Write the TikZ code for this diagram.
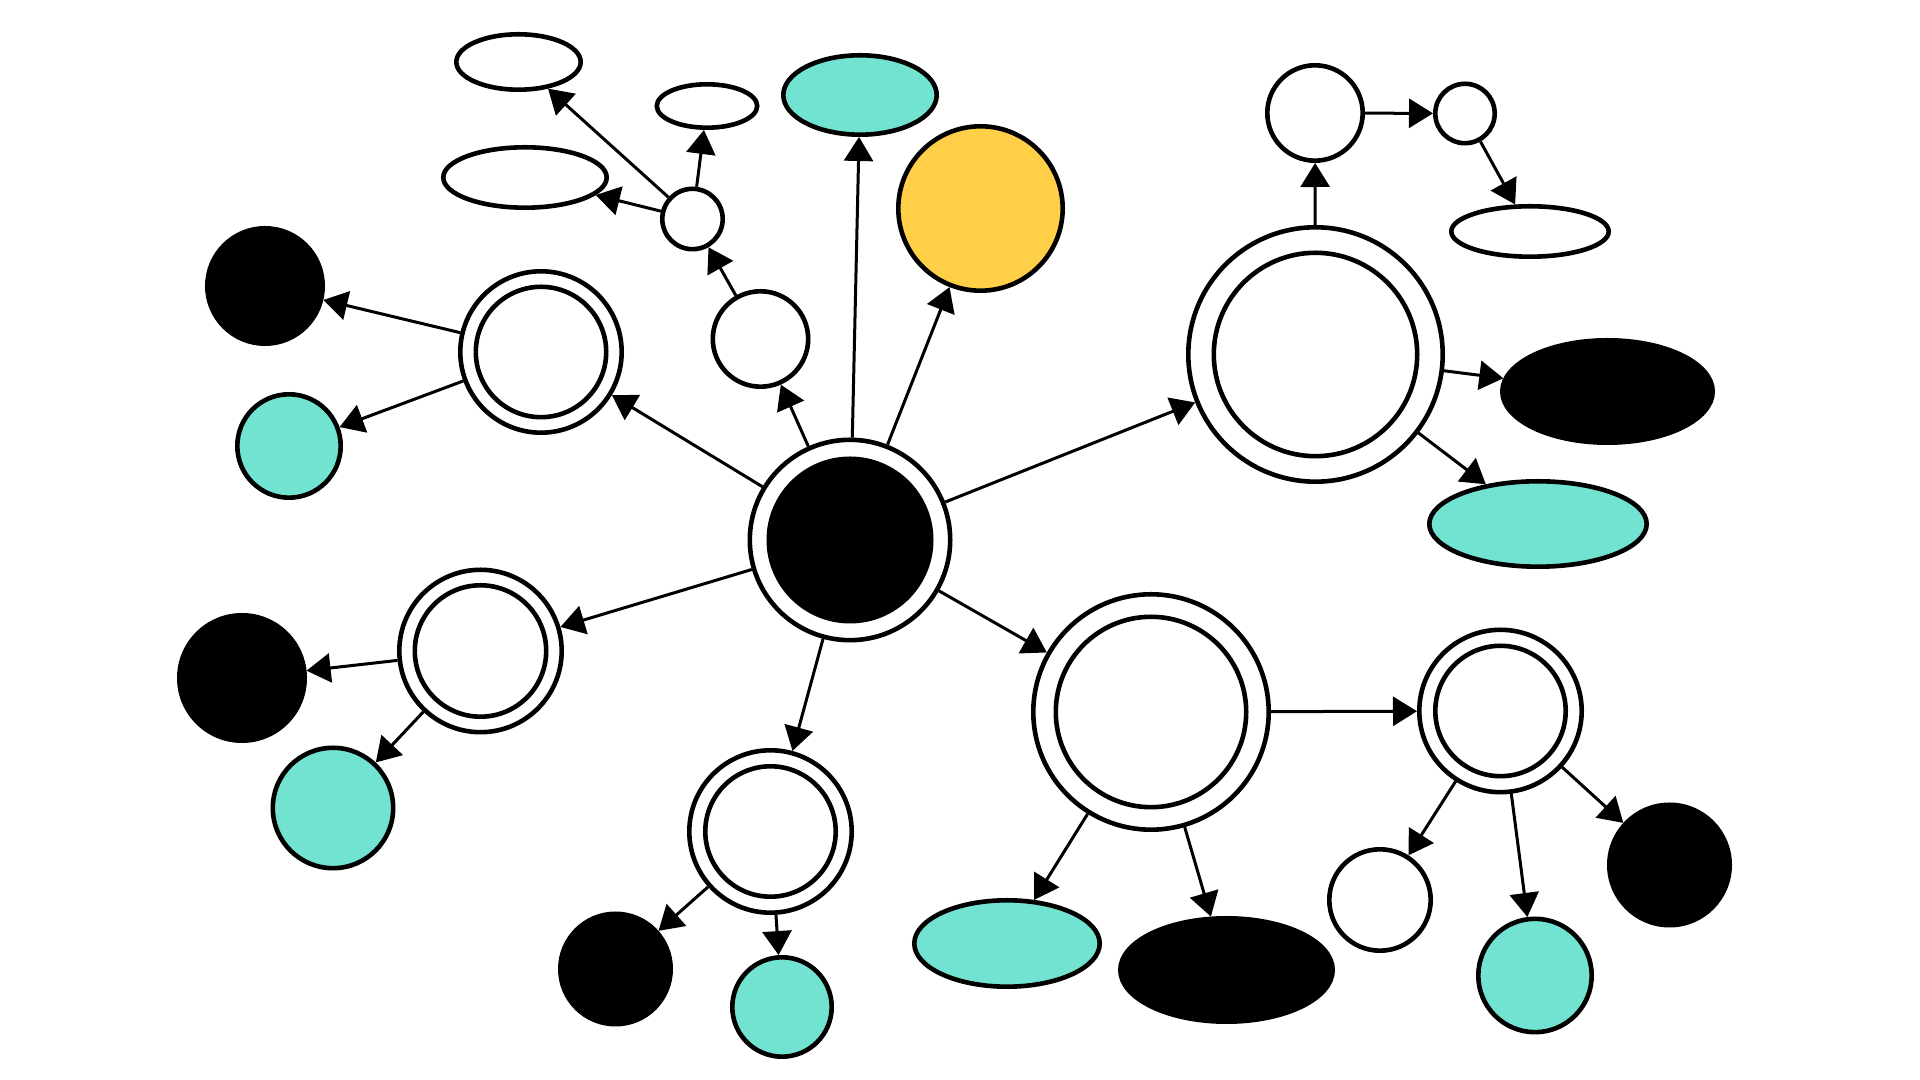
\documentclass[tikz,border=0pt]{standalone}
\usetikzlibrary{arrows.meta,shapes.geometric}
\definecolor{mint}{RGB}{114,227,208}
\definecolor{sun}{RGB}{255,207,71}
\begin{document}
\begin{tikzpicture}[x=0.01cm,y=-0.01cm,
  base/.style={draw=black, line width=0.046cm, inner sep=0pt},
  circ/.style={base, circle, minimum size=#1*0.01cm},
  oval/.style 2 args={base, ellipse, minimum width=#1*0.01cm, minimum height=#2*0.01cm},
  blank/.style={fill=white},
  mintfill/.style={fill=mint},
  sunfill/.style={fill=sun},
  dark/.style={fill=black},
  link/.style={-{Triangle[length=0.24cm,width=0.29cm]}, line width=0.03cm}
]
\fill[white] (0,0) rectangle (1920,1080);
\useasboundingbox (0,0) rectangle (1920,1080);

% hub
\node[circ=200.4, blank] (C) at (850,540) {};
\node[circ=162.4, dark] (C-in) at (C) {};

% upper left branch
\node[circ=161.4, blank] (A) at (541,352) {};
\node[circ=130.4, blank] (A-in) at (A) {};
\node[circ=115.4, dark] (B1) at (265,286) {};
\node[circ=103.4, mintfill] (T1) at (289,446) {};

% lower left branch
\node[circ=162.4, blank] (D) at (480.5,651) {};
\node[circ=131.4, blank] (D-in) at (D) {};
\node[circ=125.4, dark] (B2) at (242,678) {};
\node[circ=120.4, mintfill] (T2) at (333,808) {};

% bottom branch
\node[circ=162.4, blank] (H) at (770.5,831.5) {};
\node[circ=130.4, blank] (H-in) at (H) {};
\node[circ=110.4, dark] (B3) at (615.5,969) {};
\node[circ=99.4, mintfill] (T3) at (782,1007) {};

% lower right branch
\node[circ=235.4, blank] (E) at (1151,712) {};
\node[circ=190.4, blank] (E-in) at (E) {};
\node[oval={185.4}{86.4}, mintfill] (TE3) at (1007,943.5) {};
\node[oval={212.4}{103.4}, dark] (BE2) at (1226.5,970) {};
\node[circ=162.4, blank] (I) at (1500.5,711) {};
\node[circ=130.4, blank] (I-in) at (I) {};
\node[circ=101.4, blank] (W2) at (1380,900) {};
\node[circ=113.4, mintfill] (T4) at (1535,975.5) {};
\node[circ=120.4, dark] (B4) at (1669.5,865) {};

% upper right branch
\node[circ=254.4, blank] (G) at (1315.5,354.5) {};
\node[circ=203.4, blank] (G-in) at (G) {};
\node[oval={210.4}{102.4}, dark] (BE1) at (1607.5,391.5) {};
\node[oval={217.4}{85.4}, mintfill] (TE2) at (1538,524) {};
\node[circ=95.4, blank] (F1) at (1315,113) {};
\node[circ=59.4, blank] (F2) at (1465,113.5) {};
\node[oval={157.4}{50.4}, blank] (F3) at (1530,231.5) {};

% top branch
\node[circ=95.4, blank] (W1) at (760.5,339) {};
\node[circ=60.4, blank] (S) at (692.5,219) {};
\node[oval={124.4}{55.4}, blank] (E1) at (518.5,62) {};
\node[oval={100.4}{43.4}, blank] (E2) at (707,106) {};
\node[oval={163.4}{60.4}, blank] (E3) at (525,177.5) {};
\node[oval={153.4}{79.4}, mintfill] (TE) at (860,95) {};
\node[circ=164.4, sunfill] (Y) at (980.5,208.5) {};

% connectors
\draw[link] (C) -- (A);
\draw[link] (C) -- (D);
\draw[link] (C) -- (H);
\draw[link] (C) -- (E);
\draw[link] (C) -- (G);
\draw[link] (C) -- (W1);
\draw[link] (C) -- (TE);
\draw[link] (C) -- (Y);
\draw[link] (W1) -- (S);
\draw[link] (S) -- (E1);
\draw[link] (S) -- (E2);
\draw[link] (S) -- (E3);
\draw[link] (A) -- (B1);
\draw[link] (A) -- (T1);
\draw[link] (D) -- (B2);
\draw[link] (D) -- (T2);
\draw[link] (H) -- (B3);
\draw[link] (H) -- (T3);
\draw[link] (E) -- (TE3);
\draw[link] (E) -- (BE2);
\draw[link] (E) -- (I);
\draw[link] (I) -- (W2);
\draw[link] (I) -- (T4);
\draw[link] (I) -- (B4);
\draw[link] (G) -- (F1);
\draw[link] (F1) -- (F2);
\draw[link] (F2) -- (F3);
\draw[link] (G) -- (BE1);
\draw[link] (G) -- (TE2);
\end{tikzpicture}
\end{document}
